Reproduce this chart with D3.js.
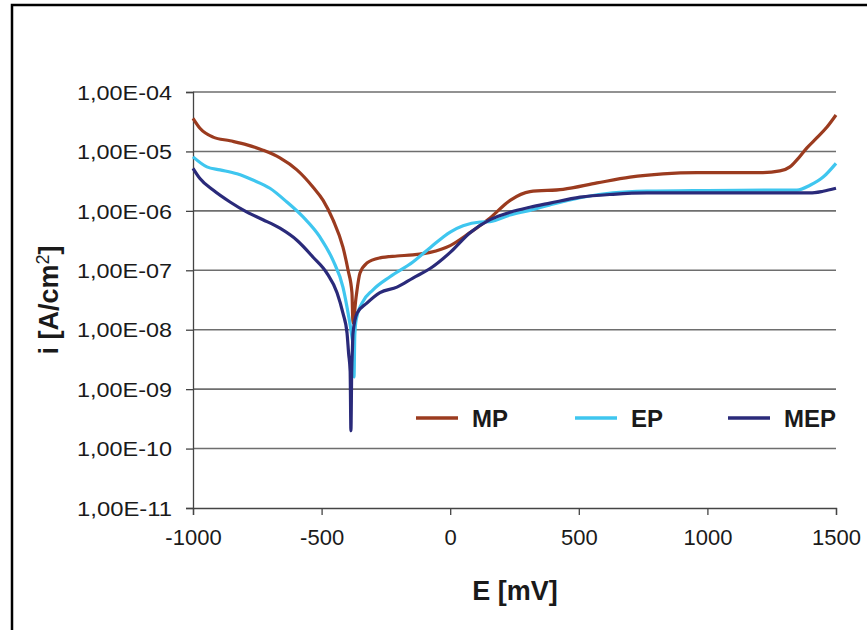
<!DOCTYPE html>
<html>
<head>
<meta charset="utf-8">
<script src="https://cdn.jsdelivr.net/npm/d3@7"></script>
<style>
  html, body { margin: 0; padding: 0; background: #fff; }
  svg { display: block; font-family: "Liberation Sans", Arial, sans-serif; }
</style>
</head>
<body>
<svg id="chart" width="867" height="630"></svg>
<script>
// ---- Data ----
const seriesNames = ["MP", "EP", "MEP"];
const seriesColors = ["#9b3b1f", "#3fc6ef", "#2a2a7a"];

const mpPotential = [-1000, -973, -922, -856, -790, -728, -662, -596, -533, -494, -456, -417, -397, -382, -378, -366, -351, -324, -273, -207, -145, -78, 0, 77, 155, 233, 310, 439, 571, 699, 827, 960, 1088, 1216, 1282, 1321, 1348, 1387, 1426, 1465, 1500];
const mpCurrent = [3.6e-5, 2.45e-5, 1.74e-5, 1.51e-5, 1.29e-5, 1.05e-5, 7.8e-6, 4.9e-6, 2.5e-6, 1.5e-6, 7.1e-7, 2.45e-7, 1.0e-7, 4.2e-8, 1.3e-8, 3.5e-8, 8.9e-8, 1.32e-7, 1.62e-7, 1.74e-7, 1.82e-7, 2.0e-7, 2.6e-7, 4.3e-7, 7.6e-7, 1.5e-6, 2.1e-6, 2.3e-6, 2.95e-6, 3.7e-6, 4.2e-6, 4.4e-6, 4.4e-6, 4.4e-6, 4.7e-6, 5.5e-6, 7.2e-6, 1.15e-5, 1.7e-5, 2.57e-5, 4.1e-5];

const epPotential = [-1000, -946, -895, -829, -767, -701, -635, -572, -506, -456, -417, -397, -382, -377, -374, -371, -366, -343, -300, -234, -145, -78, 0, 50, 117, 155, 233, 310, 388, 505, 633, 765, 1000, 1348, 1399, 1450, 1500];
const epCurrent = [8.1e-6, 5.5e-6, 4.9e-6, 4.2e-6, 3.3e-6, 2.4e-6, 1.41e-6, 7.9e-7, 3.6e-7, 1.48e-7, 5.2e-8, 1.9e-8, 7.6e-9, 5.0e-9, 1.6e-9, 7.9e-9, 1.45e-8, 2.8e-8, 4.7e-8, 7.8e-8, 1.38e-7, 2.4e-7, 4.4e-7, 5.6e-7, 6.5e-7, 6.6e-7, 8.5e-7, 1.02e-6, 1.26e-6, 1.66e-6, 2.0e-6, 2.14e-6, 2.2e-6, 2.24e-6, 2.7e-6, 3.7e-6, 6.3e-6];

const mepPotential = [-1000, -973, -922, -856, -790, -728, -662, -596, -533, -479, -440, -417, -401, -395, -389, -386, -383, -380, -378, -362, -324, -273, -207, -145, -78, 0, 77, 155, 233, 310, 388, 505, 633, 765, 1000, 1399, 1450, 1500];
const mepCurrent = [5.2e-6, 3.5e-6, 2.24e-6, 1.41e-6, 9.5e-7, 7.1e-7, 5.1e-7, 3.2e-7, 1.66e-7, 8.9e-8, 4.2e-8, 1.9e-8, 8.7e-9, 4.0e-9, 2.0e-9, 2.0e-10, 2.0e-9, 5.0e-9, 8.7e-9, 1.9e-8, 2.8e-8, 4.2e-8, 5.2e-8, 7.4e-8, 1.07e-7, 2.0e-7, 4.3e-7, 7.1e-7, 9.5e-7, 1.15e-6, 1.35e-6, 1.7e-6, 1.9e-6, 2.0e-6, 2.0e-6, 2.0e-6, 2.14e-6, 2.4e-6];

const xTickValues = [-1000, -500, 0, 500, 1000, 1500];
const xTickLabels = ["-1000", "-500", "0", "500", "1000", "1500"];
const yTickValues = [1e-4, 1e-5, 1e-6, 1e-7, 1e-8, 1e-9, 1e-10, 1e-11];
const yTickLabels = ["1,00E-04", "1,00E-05", "1,00E-06", "1,00E-07", "1,00E-08", "1,00E-09", "1,00E-10", "1,00E-11"];

const xTitle = "E [mV]";

// ---- Build ----
const svg = d3.select("#chart");

// outer frame (only top and left visible in reference)
svg.append("rect")
  .attr("x", 12).attr("y", 5)
  .attr("width", 900).attr("height", 700)
  .attr("fill", "none").attr("stroke", "#000").attr("stroke-width", 2.5);

const x = d3.scaleLinear().domain([-1000, 1500]).range([193, 836]);
const y = d3.scaleLog().domain([1e-11, 1e-4]).range([508, 92]);

// gridlines
svg.append("g")
  .selectAll("line")
  .data(yTickValues.slice(0, -1))
  .join("line")
  .attr("x1", x(-1000)).attr("x2", x(1500))
  .attr("y1", d => y(d)).attr("y2", d => y(d))
  .attr("stroke", "#6e6e6e").attr("stroke-width", 1.6);

// y axis
const yAxis = d3.axisLeft(y)
  .tickValues(yTickValues)
  .tickFormat((d, i) => yTickLabels[i])
  .tickSize(7).tickPadding(14);
const gy = svg.append("g").attr("transform", `translate(${x(-1000)},0)`).call(yAxis);
gy.select(".domain").attr("stroke", "#444").attr("stroke-width", 1.3);
gy.selectAll(".tick line").attr("stroke", "#444").attr("stroke-width", 1.3);
gy.selectAll(".tick text")
  .attr("font-size", 20)
  .attr("fill", "#1a1a1a")
  .attr("font-family", "'Liberation Sans', Arial, sans-serif")
  .attr("dy", "0.36em")
  .attr("textLength", 95)
  .attr("lengthAdjust", "spacingAndGlyphs");

// x axis
const xAxis = d3.axisBottom(x)
  .tickValues(xTickValues)
  .tickFormat((d, i) => xTickLabels[i])
  .tickSize(7).tickPadding(14);
const gx = svg.append("g").attr("transform", `translate(0,${y(1e-11)})`).call(xAxis);
gx.select(".domain").attr("stroke", "#444").attr("stroke-width", 1.3);
gx.selectAll(".tick line").attr("stroke", "#444").attr("stroke-width", 1.3);
gx.selectAll(".tick text")
  .attr("font-size", 22)
  .attr("fill", "#1a1a1a")
  .attr("font-family", "'Liberation Sans', Arial, sans-serif")
  .attr("dy", "0.71em");

// axis titles
svg.append("text")
  .attr("x", 515).attr("y", 600)
  .attr("text-anchor", "middle")
  .attr("font-size", 27).attr("font-weight", "bold").attr("fill", "#1a1a1a")
  .text(xTitle);

const yt = svg.append("text")
  .attr("transform", "translate(58,300) rotate(-90)")
  .attr("text-anchor", "middle")
  .attr("font-size", 27).attr("font-weight", "bold").attr("fill", "#1a1a1a");
yt.append("tspan").text("i [A/cm");
yt.append("tspan").attr("font-size", 18).attr("font-weight", "normal").attr("dy", -9).text("2");
yt.append("tspan").attr("dy", 9).text("]");

// series
const series = [
  { name: seriesNames[0], color: seriesColors[0], E: mpPotential, I: mpCurrent },
  { name: seriesNames[1], color: seriesColors[1], E: epPotential, I: epCurrent },
  { name: seriesNames[2], color: seriesColors[2], E: mepPotential, I: mepCurrent }
];

const line = d3.line()
  .x(d => x(d[0]))
  .y(d => y(d[1]))
  .curve(d3.curveMonotoneX);

svg.append("g")
  .selectAll("path")
  .data(series)
  .join("path")
  .attr("d", s => line(s.E.map((e, i) => [e, s.I[i]])))
  .attr("fill", "none")
  .attr("stroke", s => s.color)
  .attr("stroke-width", 3.2)
  .attr("stroke-linejoin", "round");

// legend
const legendX = [416, 575, 728];
const lg = svg.append("g");
series.forEach((s, i) => {
  lg.append("line")
    .attr("x1", legendX[i]).attr("x2", legendX[i] + 42)
    .attr("y1", 418).attr("y2", 418)
    .attr("stroke", s.color).attr("stroke-width", 3.5);
  lg.append("text")
    .attr("x", legendX[i] + 56).attr("y", 427)
    .attr("font-size", 24).attr("font-weight", "bold").attr("fill", "#1a1a1a")
    .text(s.name);
});
</script>
</body>
</html>
